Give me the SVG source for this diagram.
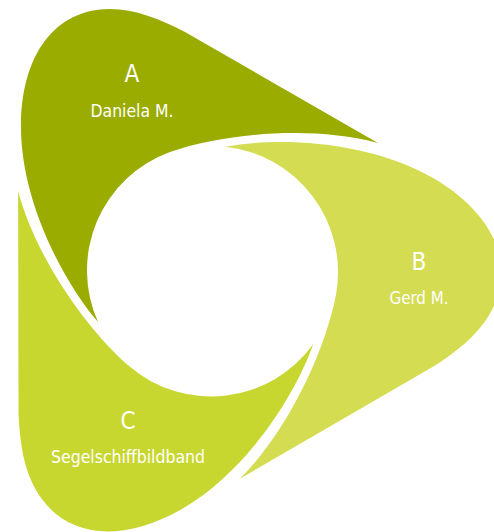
<svg xmlns="http://www.w3.org/2000/svg" xmlns:xlink="http://www.w3.org/1999/xlink" width="494" height="532" viewBox="0 0 494 532">
<style>
.big{font-family:"DejaVu Sans Condensed","DejaVu Sans",sans-serif;font-size:24px;fill:#ffffff;text-anchor:middle}
.small{font-family:"DejaVu Sans Condensed","DejaVu Sans",sans-serif;font-size:18px;fill:#ffffff;text-anchor:middle}
</style>
<defs>
<path id="petal" d="M378,143 L185,32 C160,19 135,9 110,9 C55,9 21,55 21,127 C21,200 62,280 98,322 A126,126 0 0 1 170,152 C227,132 315,126 378,143 Z"/>
</defs>
<rect width="494" height="532" fill="#ffffff"/>
<g id="node-B">
<use xlink:href="#petal" href="#petal" transform="rotate(120 212 271)" fill="#d4dc52"/>
<text class="big" x="419" y="270">B</text>
<text class="small" x="419" y="304" textLength="59" lengthAdjust="spacingAndGlyphs">Gerd M.</text>
</g>
<g id="node-C">
<use xlink:href="#petal" href="#petal" transform="rotate(240 212 271)" fill="#c8d730"/>
<text class="big" x="128" y="429">C</text>
<text class="small" x="128" y="463" textLength="154" lengthAdjust="spacingAndGlyphs">Segelschiffbildband</text>
</g>
<g id="node-A">
<use xlink:href="#petal" href="#petal" fill="#9aac00"/>
<text class="big" x="132" y="82">A</text>
<text class="small" x="132" y="117" textLength="83" lengthAdjust="spacingAndGlyphs">Daniela M.</text>
</g>
<g id="connectors"/>
</svg>
